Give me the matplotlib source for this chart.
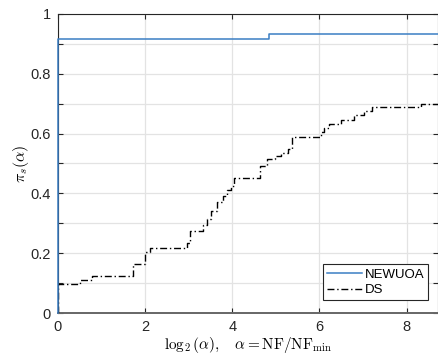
import numpy as np
import matplotlib
matplotlib.use('Agg')
import matplotlib.pyplot as plt
from matplotlib.ticker import MultipleLocator

# performance profile data (step functions)
newuoa_x = [0.0, 0.0, 4.84, 8.8]
newuoa_y = [0.0, 0.918, 0.932, 0.932]

ds_x = [0.0, 0.0, 0.50, 0.77, 1.71, 1.99, 2.10, 2.97, 3.04, 3.33, 3.42,
        3.52, 3.65, 3.78, 3.88, 3.97, 4.05, 4.64, 4.80, 4.97, 5.12, 5.27,
        5.36, 6.03, 6.10, 6.22, 6.49, 6.80, 7.02, 7.21, 8.32, 8.8]
ds_y = [0.0, 0.096, 0.110, 0.123, 0.164, 0.205, 0.219, 0.233, 0.274, 0.295, 0.315,
        0.342, 0.370, 0.390, 0.410, 0.425, 0.452, 0.493, 0.515, 0.525, 0.535, 0.548,
        0.590, 0.605, 0.620, 0.633, 0.645, 0.662, 0.675, 0.688, 0.700, 0.700]

plt.rcParams.update({
    'font.family': ['Liberation Sans', 'DejaVu Sans'],
    'mathtext.fontset': 'cm',
    'font.size': 10,
})

fig = plt.figure(figsize=(4.38, 3.54), dpi=100)
ax = fig.add_axes([0.1324, 0.1158, 0.8676, 0.8447])

ax.step(ds_x, ds_y, where='post', color='black', lw=1.0, ls='-.',
        dashes=(5, 2, 1, 2), label='DS', zorder=3)
ax.step(newuoa_x, newuoa_y, where='post', color='#3b7ec4', lw=1.1,
        label='NEWUOA', zorder=3, clip_on=False)

ax.set_xlim(0, 8.72)
ax.set_ylim(0, 1)
ax.xaxis.set_major_locator(MultipleLocator(2))
ax.yaxis.set_minor_locator(MultipleLocator(0.1))
ax.set_yticks([0, 0.2, 0.4, 0.6, 0.8, 1])
ax.set_yticklabels(['0', '0.2', '0.4', '0.6', '0.8', '1'])

ax.grid(True, which='both', color='#e3e3e3', lw=0.9)
ax.set_axisbelow(True)
ax.tick_params(which='both', direction='in', top=True, right=True,
               length=3.5, width=0.8, color='#262626', labelsize=10.5,
               labelcolor='#262626', pad=5)
for side in ['left', 'right', 'top']:
    ax.spines[side].set_color('#262626')
ax.spines['bottom'].set_color('#666666')
ax.spines['bottom'].set_linewidth(1.4)

ax.set_xlabel(r'$\log_2(\alpha), \quad \alpha = \mathrm{NF}/\mathrm{NF}_{\min}$',
              fontsize=11, labelpad=1)
ax.set_ylabel(r'$\pi_s(\alpha)$', fontsize=11.5, labelpad=0)

handles, labels = ax.get_legend_handles_labels()
leg = ax.legend(handles[::-1], labels[::-1], loc='lower right',
                bbox_to_anchor=(0.985, 0.03), fancybox=False,
                framealpha=1, edgecolor='#262626', fontsize=9.5,
                handlelength=2.65, handletextpad=0.2, borderpad=0.3,
                labelspacing=0.25, borderaxespad=0.3)
leg.get_frame().set_linewidth(0.8)

fig.savefig('out.png', dpi=100)
